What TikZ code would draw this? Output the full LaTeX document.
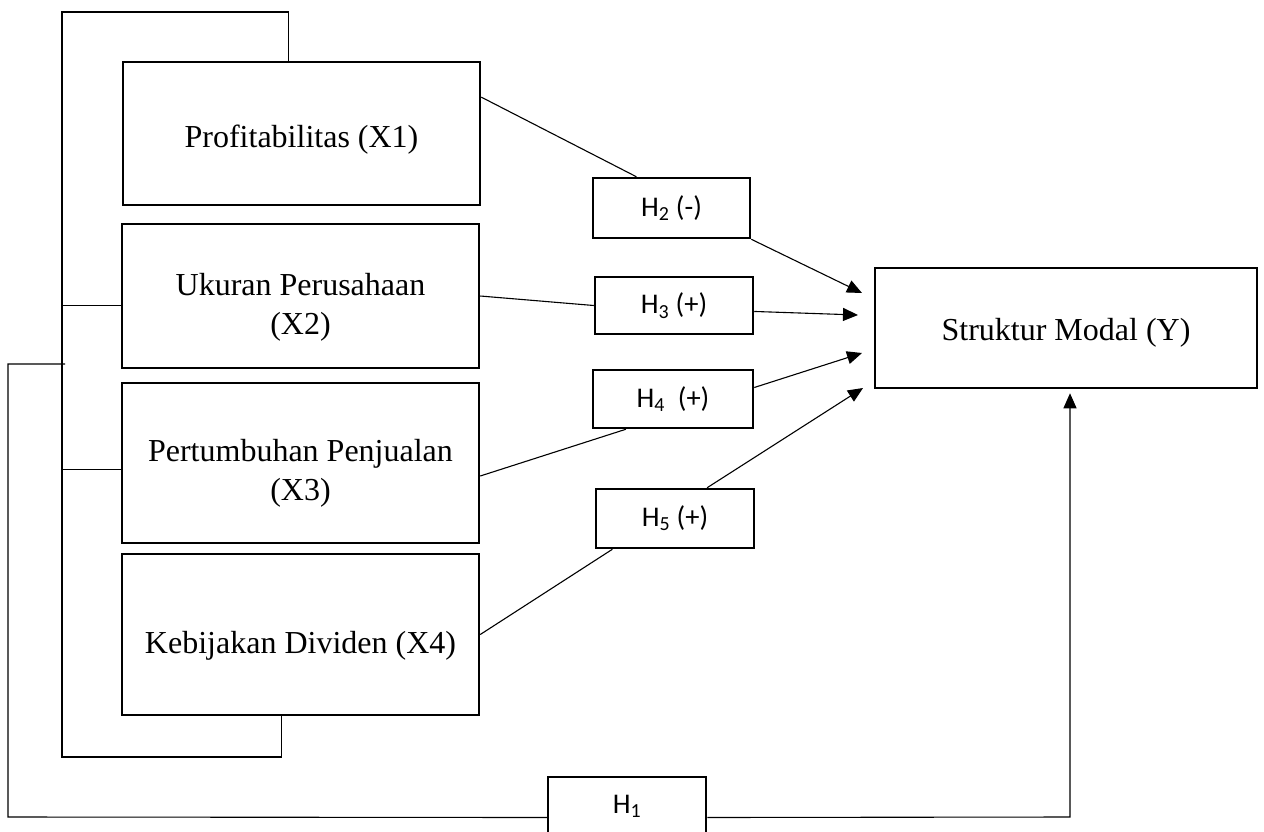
\documentclass[tikz,border=0pt]{standalone}
\usepackage{fontspec}
\setmainfont{Liberation Serif}
\newfontfamily\hfont{Carlito}
\usetikzlibrary{arrows.meta,calc}
\begin{document}
\begin{tikzpicture}[x=1pt,y=-1pt,
  vbox/.style={draw,line width=2.5pt,inner sep=0pt},
  vtxt/.style={font=\fontsize{32}{39}\selectfont,align=center,inner sep=0pt},
  hbox/.style={draw,line width=2.5pt,inner sep=0pt,font=\hfont\fontsize{28.5}{32}\selectfont},
  conn/.style={line width=1.1pt},
  arr/.style={conn,-{Triangle[length=15pt,width=13pt]}}]
\useasboundingbox (0,0) rectangle (1264,831);
\clip (0,0) rectangle (1264,831);

% variable boxes
\node[vbox,minimum width=357pt,minimum height=143pt] (x1) at (301.5,133.5) {};
\node[vtxt] (x1t) at (301.5,140) {Profitabilitas (X1)};
\node[vbox,minimum width=357pt,minimum height=144pt] (x2) at (300.5,296) {};
\node[vtxt] (x2t) at (300.5,307) {Ukuran Perusahaan\\(X2)};
\node[vbox,minimum width=357pt,minimum height=160pt] (x3) at (300.5,463) {};
\node[vtxt] (x3t) at (300.5,473) {Pertumbuhan Penjualan\\(X3)};
\node[vbox,minimum width=357pt,minimum height=161pt] (x4) at (300.5,634.5) {};
\node[vtxt] (x4t) at (300.5,645.5) {Kebijakan Dividen (X4)};
\node[vbox,minimum width=382pt,minimum height=120pt] (y) at (1066,328) {};
\node[vtxt] (yt) at (1066,332.5) {Struktur Modal (Y)};

% hypothesis boxes
\node[hbox,minimum width=157pt,minimum height=60pt] (h2) at (671.5,208) {H\textsubscript{2} (-)};
\node[hbox,minimum width=158pt,minimum height=57pt] (h3) at (674,305.5) {H\textsubscript{3} (+)};
\node[hbox,minimum width=160pt,minimum height=58pt] (h4) at (673,399) {H\textsubscript{4}\ \ (+)};
\node[hbox,minimum width=158pt,minimum height=59pt] (h5) at (675,518.5) {H\textsubscript{5} (+)};
\node[hbox,minimum width=158pt,minimum height=58pt] (h1) at (627,806) {H\textsubscript{1}};

% arrow tips
\coordinate (t2) at (862,293);
\coordinate (t3) at (858,315);
\coordinate (t4) at (862,353);
\coordinate (t5) at (863,388);

% partial hypotheses
\draw[conn] ($(x1.north east)!0.25!(x1.south east)$) -- ($(h2.north west)!0.28!(h2.north east)$);
\draw[arr] (h2.south east) -- (t2);
\draw[conn] (x2.east) -- (h3.west);
\draw[arr] ($(h3.north east)!0.6!(h3.south east)$) -- (t3);
\draw[conn] ($(x3.north east)!0.58!(x3.south east)$) -- ($(h4.south west)!0.21!(h4.south east)$);
\draw[arr] ($(h4.north east)!0.31!(h4.south east)$) -- (t4);
\draw[conn] (x4.east) -- ($(h5.south west)!0.11!(h5.south east)$);
\draw[arr] ($(h5.north west)!0.70!(h5.north east)$) -- (t5);

% simultaneous hypothesis
\coordinate (c1) at (1070,817);
\draw[arr,shorten >=4pt] ($(h1.north east)!0.69!(h1.south east)$) -- (c1) -- (c1 |- y.south);

\coordinate (o1) at (8,817);
\coordinate (o2) at (8,364);
\coordinate (o3) at (65,364);
\draw[conn] ($(h1.north west)!0.69!(h1.south west)$) -- (o1) -- (o2) -- (o3);

\coordinate (i2) at (62,12);
\coordinate (i3) at (62,757);
\draw[conn] ($(x1.north west)!0.465!(x1.north east)$) |- (i2) -- (i3) -| ($(x4.south west)!0.448!(x4.south east)$);

\coordinate (p2) at ($(x2.north west)!0.565!(x2.south west)$);
\coordinate (p3) at ($(x3.north west)!0.54!(x3.south west)$);
\draw[conn] (p2) -- (p2 -| i2);
\draw[conn] (p3) -- (p3 -| i2);
\end{tikzpicture}
\end{document}
